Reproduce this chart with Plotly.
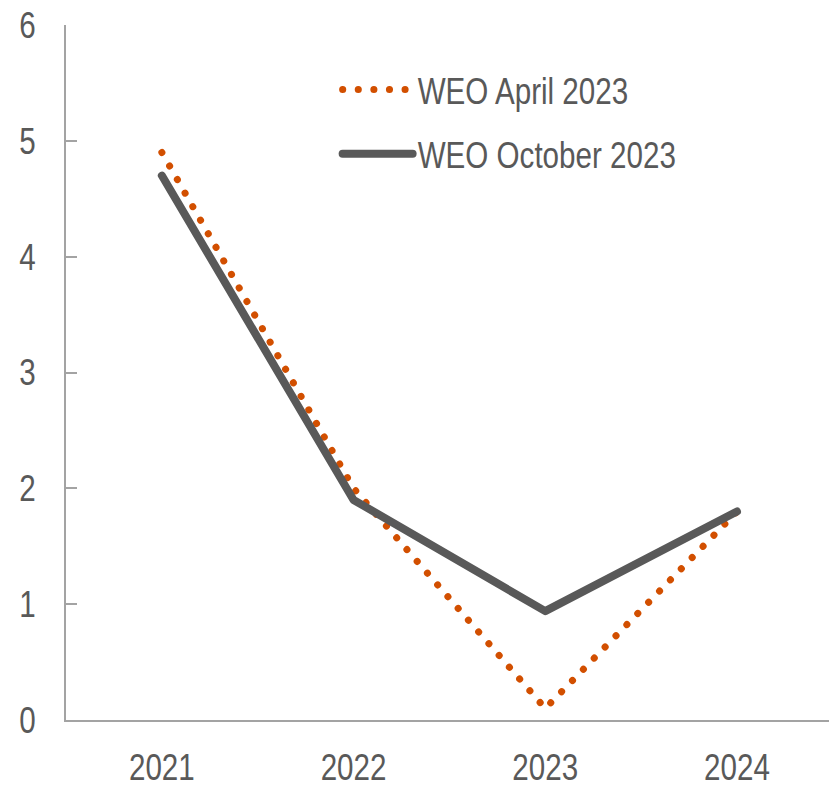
import plotly.graph_objects as go

# Real GDP growth projections, percent
years = ["2021", "2022", "2023", "2024"]
weo_april_2023 = [4.9, 2.0, 0.1, 1.8]
weo_october_2023 = [4.7, 1.9, 0.94, 1.8]
y_ticks = [0, 1, 2, 3, 4, 5, 6]

FONT = "Liberation Sans, Arial, sans-serif"
SIZE = 37
TEXT = "#595959"
AXIS = "#a3a3a3"

fig = go.Figure()
fig.add_trace(go.Scatter(
    x=years, y=weo_april_2023, name="WEO April 2023", mode="lines",
    legendgroup="a",
    line=dict(color="#d24f00", width=7, dash="0.1px,15.5px"),
))
fig.add_trace(go.Scatter(
    x=years, y=weo_october_2023, name="WEO October 2023", mode="lines",
    legendgroup="b",
    line=dict(color="#595959", width=8),
))

fig.update_layout(
    width=829, height=788,
    margin=dict(l=66, r=0, t=25, b=64),
    paper_bgcolor="white", plot_bgcolor="white",
    font=dict(family=FONT, size=SIZE, color=TEXT),
    showlegend=True,
    legend=dict(
        x=0.356, y=0.951, xanchor="left", yanchor="top",
        bgcolor="rgba(0,0,0,0)", itemwidth=70,
        tracegroupgap=13,
        font=dict(family=FONT, size=SIZE, color=TEXT),
    ),
)
fig.update_xaxes(
    type="category", range=[-0.5, 3.48],
    showline=True, linecolor=AXIS, linewidth=2,
    showgrid=False, zeroline=False, ticks="",
    ticklabelstandoff=14,
    tickfont=dict(family=FONT, size=SIZE, color=TEXT),
)
fig.update_yaxes(
    range=[0, 6], tickvals=y_ticks,
    showline=True, linecolor=AXIS, linewidth=2,
    showgrid=False, zeroline=False,
    ticks="inside", ticklen=11, tickwidth=2, tickcolor=AXIS,
    ticklabelstandoff=21,
    tickfont=dict(family=FONT, size=SIZE, color=TEXT),
)

# round caps so the dotted series is drawn as round dots,
# and a narrow (condensed) look for all labels
post = """
document.querySelectorAll('path.js-line').forEach(function(p){
  p.style.strokeLinecap='round'; p.style.strokeLinejoin='round';
});
document.querySelectorAll('.main-svg text').forEach(function(t){
  var w = t.getComputedTextLength();
  if (w > 0) {
    t.setAttribute('textLength', (w * 0.8).toFixed(2));
    t.setAttribute('lengthAdjust', 'spacingAndGlyphs');
  }
});
"""
fig.write_html("out.html", post_script=post)
